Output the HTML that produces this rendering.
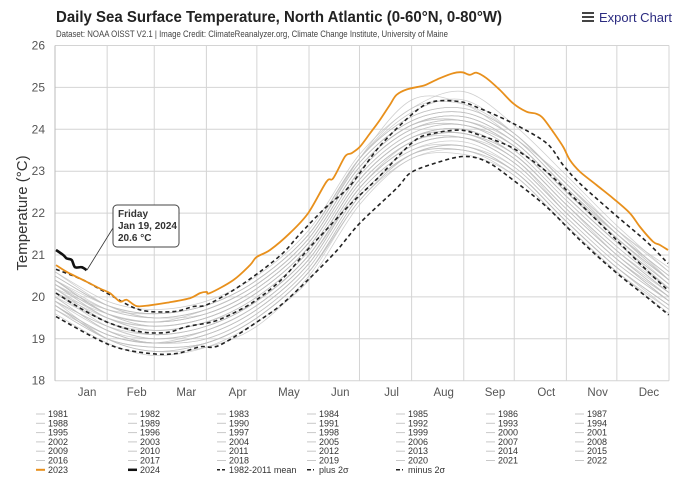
<!DOCTYPE html>
<html><head><meta charset="utf-8">
<style>
body{margin:0;background:#fff;width:680px;height:481px;overflow:hidden;font-family:"Liberation Sans",sans-serif}
svg text{font-family:"Liberation Sans",sans-serif}
</style></head>
<body>
<svg id="chart" width="680" height="481" viewBox="0 0 680 481">
  <text x="56" y="22" font-size="16" font-weight="bold" fill="#222" textLength="446" lengthAdjust="spacingAndGlyphs">Daily Sea Surface Temperature, North Atlantic (0-60°N, 0-80°W)</text>
  <text x="56" y="37" font-size="9" fill="#444" textLength="392" lengthAdjust="spacingAndGlyphs">Dataset: NOAA OISST V2.1 | Image Credit: ClimateReanalyzer.org, Climate Change Institute, University of Maine</text>
  <g>
    <rect x="582" y="12" width="12" height="2" fill="#444"/><rect x="582" y="16" width="12" height="2" fill="#444"/><rect x="582" y="20" width="12" height="2" fill="#444"/>
    <text x="599" y="22" font-size="13" fill="#2b2b80">Export Chart</text>
  </g>
  <text transform="translate(27,213) rotate(-90)" text-anchor="middle" font-size="15" fill="#333">Temperature (°C)</text>
  <g id="grid"></g>
  <g id="series" clip-path="url(#clip)"></g>
  <defs><clipPath id="clip"><rect x="55" y="40" width="615" height="342"/></clipPath></defs>
  <g id="axes"></g>
  <g>
    <line x1="87" y1="270" x2="113" y2="228" stroke="#333" stroke-width="0.8"/>
    <rect x="113" y="205" width="66" height="42" rx="4" fill="#fff" stroke="#444" stroke-width="1"/>
    <text x="118" y="217" font-size="10" font-weight="bold" fill="#333">Friday</text>
    <text x="118" y="229" font-size="10" font-weight="bold" fill="#333">Jan 19, 2024</text>
    <text x="118" y="241" font-size="10" font-weight="bold" fill="#333">20.6 °C</text>
  </g>
  <g id="legend"></g>
</svg>
<script>
const months=["Jan","Feb","Mar","Apr","May","Jun","Jul","Aug","Sep","Oct","Nov","Dec"];
const monthStart=[0,31,59,90,120,151,181,212,243,273,304,334,365];
const yTicks=[18,19,20,21,22,23,24,25,26];
const grayDays=[0,31,59,90,120,151,181,212,243,273,304,334,365];
const grayYears=[1981,1982,1983,1984,1985,1986,1987,1988,1989,1990,1991,1992,1993,1994,1995,1996,1997,1998,1999,2000,2001,2002,2003,2004,2005,2006,2007,2008,2009,2010,2011,2012,2013,2014,2015,2016,2017,2018,2019,2020,2021,2022];
const grayValues=[
[19.8,19.1,18.9,19.0,19.6,20.7,22.5,23.5,23.6,23.1,21.9,20.8,19.9],
[19.8,19.0,18.7,18.9,19.5,20.6,22.3,23.4,23.6,23.0,21.8,20.7,19.8],
[19.7,19.1,18.9,19.2,19.8,20.9,22.6,23.7,23.8,23.2,22.0,20.9,20.0],
[19.9,19.0,18.7,18.8,19.3,20.5,22.3,23.3,23.5,22.9,21.7,20.6,19.6],
[19.6,18.9,18.6,18.8,19.4,20.4,22.2,23.3,23.4,22.9,21.7,20.6,19.7],
[19.7,19.0,18.8,18.9,19.5,20.6,22.4,23.4,23.6,23.0,21.8,20.7,19.8],
[19.8,19.1,18.9,19.1,19.7,20.8,22.6,23.6,23.8,23.2,22.0,20.9,20.0],
[20.0,19.2,18.9,19.1,19.7,20.8,22.6,23.6,23.8,23.3,22.0,20.9,19.9],
[19.8,19.0,18.8,18.9,19.5,20.6,22.4,23.4,23.5,23.0,21.8,20.7,19.8],
[19.9,19.3,19.0,19.2,19.8,20.9,22.7,23.7,23.9,23.3,22.1,21.0,20.0],
[20.0,19.2,18.9,19.1,19.7,20.8,22.6,23.6,23.8,23.2,22.0,20.9,19.9],
[19.8,19.0,18.7,18.9,19.5,20.6,22.3,23.4,23.5,23.0,21.8,20.7,19.7],
[19.7,19.0,18.8,18.9,19.5,20.6,22.4,23.4,23.6,23.0,21.8,20.7,19.8],
[19.8,19.1,18.9,19.0,19.6,20.7,22.5,23.5,23.7,23.1,21.9,20.8,19.9],
[19.9,19.3,19.1,19.3,19.9,21.0,22.8,23.8,24.0,23.4,22.2,21.0,20.0],
[20.0,19.2,18.9,19.1,19.7,20.8,22.6,23.6,23.8,23.2,22.0,20.9,19.9],
[19.9,19.2,19.0,19.2,19.8,20.9,22.7,23.7,23.9,23.3,22.1,21.0,20.1],
[20.1,19.6,19.4,19.6,20.2,21.3,23.1,24.1,24.2,23.6,22.4,21.3,20.2],
[20.2,19.4,19.1,19.3,19.9,21.0,22.8,23.8,23.9,23.4,22.2,21.1,20.1],
[20.1,19.3,19.0,19.2,19.8,20.9,22.7,23.7,23.9,23.3,22.1,21.0,20.0],
[20.0,19.4,19.1,19.3,19.9,21.0,22.8,23.8,24.0,23.4,22.2,21.1,20.1],
[20.1,19.4,19.2,19.4,19.9,21.0,22.8,23.8,23.9,23.4,22.2,21.1,20.1],
[20.1,19.5,19.3,19.5,20.1,21.2,23.0,24.0,24.2,23.6,22.4,21.3,20.3],
[20.3,19.5,19.3,19.5,20.1,21.2,23.0,24.0,24.1,23.6,22.4,21.3,20.3],
[20.3,19.6,19.4,19.7,20.3,21.4,23.2,24.2,24.4,23.8,22.6,21.4,20.4],
[20.4,19.6,19.4,19.6,20.2,21.3,23.1,24.1,24.2,23.7,22.5,21.4,20.3],
[20.3,19.5,19.2,19.4,20.0,21.1,22.9,23.9,24.1,23.5,22.3,21.2,20.2],
[20.2,19.5,19.2,19.4,20.0,21.1,22.9,23.9,24.1,23.5,22.3,21.2,20.2],
[20.2,19.4,19.1,19.3,19.9,21.0,22.8,23.8,24.0,23.4,22.2,21.1,20.2],
[20.2,19.7,19.6,19.8,20.4,21.5,23.3,24.3,24.5,23.9,22.7,21.5,20.4],
[20.4,19.6,19.3,19.5,20.1,21.2,23.0,24.0,24.2,23.6,22.4,21.3,20.3],
[20.3,19.7,19.5,19.7,20.3,21.4,23.2,24.2,24.4,23.8,22.6,21.5,20.4],
[20.4,19.6,19.3,19.5,20.1,21.2,23.0,24.0,24.1,23.6,22.4,21.3,20.3],
[20.3,19.6,19.4,19.6,20.2,21.3,23.1,24.1,24.3,23.7,22.5,21.4,20.4],
[20.4,19.6,19.4,19.6,20.2,21.3,23.1,24.1,24.3,23.7,22.5,21.5,20.5],
[20.5,19.8,19.6,19.8,20.4,21.5,23.3,24.3,24.5,23.9,22.7,21.5,20.5],
[20.5,19.8,19.6,19.8,20.4,21.5,23.3,24.4,24.7,23.9,22.7,21.6,20.4],
[20.4,19.7,19.5,19.6,20.2,21.3,23.1,24.1,24.3,23.7,22.5,21.4,20.4],
[20.4,19.8,19.6,19.8,20.4,21.5,23.3,24.5,24.6,23.9,22.7,21.6,20.6],
[20.6,19.9,19.7,19.9,20.5,21.6,23.4,24.5,24.9,24.1,22.9,21.7,20.6],
[20.6,19.8,19.5,19.7,20.3,21.4,23.2,24.2,24.4,23.8,22.6,21.5,20.5],
[20.5,19.8,19.5,19.7,20.3,21.4,23.3,24.7,24.6,23.8,22.8,21.6,20.7]];
const meanDays=[0.6,16.8,32.7,50.5,66.4,78.3,94.1,106,119.8,135.6,149.6,160,175.3,191,212.9,224.8,240.6,252.5,272.3,292.2,312,331.8,351.6,364.4];
const meanValues=[20.09,19.69,19.37,19.17,19.15,19.29,19.41,19.61,19.93,20.45,21.1,21.55,22.2,22.8,23.7,23.9,23.98,23.86,23.55,22.99,22.23,21.44,20.64,20.16];
const plusDays=[0.6,16.8,32.7,50.5,70.3,82.2,90.1,106,121.8,135.6,145.6,160,175.3,193.1,212.9,224.8,240.6,252.5,272.3,292.2,302,312,331.8,351.6,364.4];
const plusValues=[20.66,20.4,20.05,19.69,19.65,19.77,19.81,20.16,20.6,21.05,21.5,22.1,22.65,23.6,24.38,24.66,24.66,24.5,24.14,23.67,23.15,22.71,22.0,21.32,20.8];
const minusDays=[0.6,32.7,56.4,72.3,86.2,98,123.7,135.6,151.5,167.4,181.2,203,211,222.8,242.2,256.5,272.3,292.2,312,331.8,351.6,364.8];
const minusValues=[19.53,18.85,18.65,18.65,18.81,18.85,19.5,19.85,20.45,21.1,21.76,22.59,22.95,23.15,23.35,23.23,22.79,22.15,21.36,20.64,20.0,19.57];
const y2023Days=[0.6,6.9,16.8,26.7,32.7,38.6,42.6,48.5,56.4,66.4,80.2,86.2,90.1,92.1,106,115.9,119.8,127.8,139.6,150.5,161.4,165.4,172.4,176.3,181.2,187.2,193.1,199,203,209,217.9,220.9,228.8,236.7,242.2,246.6,250.6,256.5,264.4,272.3,280.3,286.2,290.2,296.1,302.1,306,312,321.9,331.8,341.7,347.6,355.5,359.5,364.4];
const y2023Values=[20.76,20.6,20.4,20.2,20.09,19.89,19.93,19.78,19.8,19.86,19.97,20.09,20.12,20.09,20.4,20.76,20.95,21.12,21.52,22.0,22.75,22.83,23.35,23.43,23.58,23.9,24.22,24.58,24.82,24.95,25.03,25.07,25.22,25.34,25.36,25.3,25.35,25.22,24.94,24.62,24.42,24.37,24.26,23.94,23.58,23.27,22.99,22.67,22.35,22.0,21.68,21.32,21.24,21.12];
const y2024Days=[0.6,4.9,6.9,9.9,11.9,15.8,18.8];
const y2024Values=[21.12,21.0,20.92,20.88,20.71,20.71,20.64];

const NS="http://www.w3.org/2000/svg";
const X0=55,X1=669,Y0=380.7,PPU=41.9;
function xs(d){return X0+d*(X1-X0)/365;}
function ys(v){return Y0-(v-18)*PPU;}
function mk(tag,attrs,parent){const e=document.createElementNS(NS,tag);for(const k in attrs)e.setAttribute(k,attrs[k]);parent.appendChild(e);return e;}
function smoothPath(days,vals){
  const p=days.map((d,i)=>[xs(d),ys(vals[i])]);
  let s="M"+p[0][0].toFixed(1)+","+p[0][1].toFixed(1);
  for(let i=0;i<p.length-1;i++){
    const a=p[Math.max(0,i-1)],b=p[i],c=p[i+1],d=p[Math.min(p.length-1,i+2)];
    const t=0.16;
    const c1=[b[0]+(c[0]-a[0])*t,b[1]+(c[1]-a[1])*t];
    const c2=[c[0]-(d[0]-b[0])*t,c[1]-(d[1]-b[1])*t];
    s+="C"+c1[0].toFixed(1)+","+c1[1].toFixed(1)+" "+c2[0].toFixed(1)+","+c2[1].toFixed(1)+" "+c[0].toFixed(1)+","+c[1].toFixed(1);
  }
  return s;
}
const grid=document.getElementById('grid'),series=document.getElementById('series'),axes=document.getElementById('axes'),legend=document.getElementById('legend');
yTicks.forEach(v=>{
  const l=mk('line',{x1:X0,x2:X1,y1:ys(v),y2:ys(v),stroke:'#d4d4d4','stroke-width':1},grid);
  
  
  const t=mk('text',{x:45,y:ys(v)+4,'text-anchor':'end','font-size':12,fill:'#555'},axes);
  t.textContent=v;
  
  
});
monthStart.forEach(d=>{
  const l=mk('line',{x1:xs(d),x2:xs(d),y1:ys(26),y2:ys(18),stroke:'#d4d4d4','stroke-width':1},grid);
  
  
});
mk('line',{x1:X0,x2:X0,y1:ys(26),y2:ys(18),stroke:'#bbb','stroke-width':1},axes);
months.forEach((m,i)=>{
  const t=mk('text',{x:(xs(monthStart[i])+xs(monthStart[i+1]))/2+6,y:396,'text-anchor':'middle','font-size':11.5,fill:'#555'},axes);
  t.textContent=m;
  
  
});
grayValues.forEach((vals,i)=>{
  const p=mk('path',{d:smoothPath(grayDays,vals),fill:'none',stroke:'#bdbdbd','stroke-width':0.75,'stroke-opacity':0.75},series);
  
  
});
[[meanDays,meanValues,'mean-line'],[plusDays,plusValues,'plus-2sigma-line'],[minusDays,minusValues,'minus-2sigma-line']].forEach(s=>{
  const p=mk('path',{d:smoothPath(s[0],s[1]),fill:'none',stroke:'#222','stroke-width':1.6,'stroke-dasharray':'4,3'},series);
  
  
});
const p23=mk('path',{d:smoothPath(y2023Days,y2023Values),fill:'none',stroke:'#e8901c','stroke-width':1.8},series);


const p24=mk('path',{d:smoothPath(y2024Days,y2024Values),fill:'none',stroke:'#111','stroke-width':2.6},series);


const colX=[48,140,229,319,408,498,587];
const legendItems=grayYears.map(y=>[String(y),'#c8c8c8',1,null]).concat([["2023",'#e8901c',2,null],["2024",'#111',2.5,null],["1982-2011 mean",'#222',1.5,'3,2'],["plus 2σ",'#222',1.5,'4,2,1,2'],["minus 2σ",'#222',1.5,'4,2,1,2']]);
legendItems.forEach((it,i)=>{
  const c=i%7,r=Math.floor(i/7);
  const g=mk('g',{},legend);
  
  
  const y=417+r*9.3;
  const la={x1:colX[c]-12,x2:colX[c]-3,y1:y-3,y2:y-3,stroke:it[1],'stroke-width':it[2]};
  if(it[3])la['stroke-dasharray']=it[3];
  mk('line',la,g);
  const t=mk('text',{x:colX[c],y:y,'font-size':9,fill:'#333'},g);
  t.textContent=it[0];
});
</script>
</body></html>
